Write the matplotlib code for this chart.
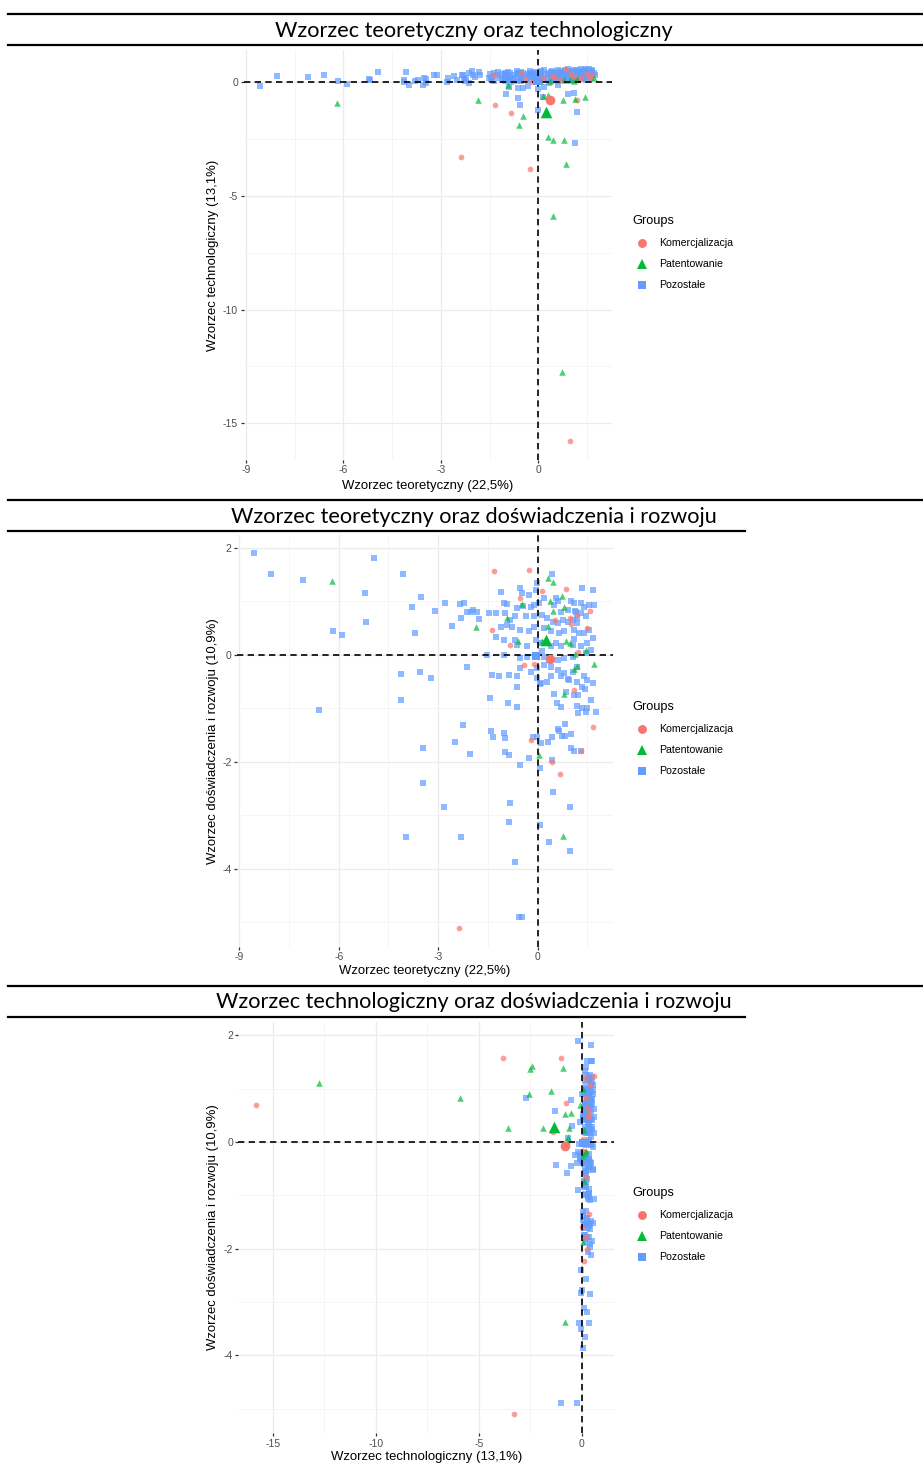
import matplotlib
matplotlib.use("Agg")
import matplotlib.pyplot as plt
from matplotlib.lines import Line2D
from matplotlib.ticker import FixedLocator

# ---------------- data ----------------
groups = ["Komercjalizacja", "Patentowanie", "Pozostałe"]
group_colors = ["#F8766D", "#00BA38", "#619CFF"]
group_markers = ["o", "^", "s"]

kom_teor = [-2.37, 0.97, -0.27, -1.33, -0.83, 1.20, 0.14, -0.53, 0.85, 0.52, 1.00, -1.37,
            1.58, 1.50, 1.23, -0.41, -0.11, 1.10, 1.66, -0.19, 1.32, 0.42, 0.66]
kom_tech = [-3.28, -15.80, -3.83, -1.00, -1.37, -0.76, 0.20, 0.40, 0.60, 0.25, 0.35, 0.30,
            0.20, 0.35, 0.10, 0.15, 0.05, 0.23, 0.34, 0.00, 0.20, 0.26, 0.10]
kom_rozw = [-5.10, 0.70, 1.58, 1.57, 0.19, 0.74, 1.20, 1.07, 1.23, 0.65, 0.58, 0.47,
            0.82, 0.50, 0.06, -0.19, -0.17, -0.65, -1.35, -1.59, -1.79, -2.00, -2.23]

pat_teor = [0.72, -6.20, 0.46, 0.85, 0.31, 0.46, 0.80, -0.60, -0.46, -1.87, 0.76, 1.12,
            1.45, 0.13, 0.30, 0.36, -0.94, 0.98, 1.20, 1.10, 1.71, 0.78, 0.04]
pat_tech = [-12.75, -0.93, -5.90, -3.60, -2.41, -2.53, -2.56, -1.87, -1.50, -0.79, -0.80, -0.72,
            -0.67, -0.60, -0.54, 0.05, -0.10, 0.10, 0.15, 0.05, 0.20, 0.10, 0.06]
pat_rozw = [1.10, 1.39, 0.82, 0.26, 1.43, 1.37, 0.90, 0.26, 0.95, 0.52, -3.38, 0.02,
            0.10, 0.27, 0.55, 1.00, 0.70, 0.22, -0.20, -0.27, -0.17, -0.73, -1.87]

poz_teor = [-8.55, -8.04, -7.08, -6.58, -6.17, -5.90, -5.21, -5.18, -4.94, -4.13, -4.12, -4.07,
            -3.97, -3.78, -3.71, -3.55, -3.52, -3.46, -3.45, -3.21, -3.11, -2.82, -2.79, -2.58,
            -2.50, -2.35, -2.31, -2.30, -2.26, -2.23, -2.13, -2.13, -2.05, -2.00, -1.96, -1.83,
            -1.78, -1.52, -1.48, -1.45, -1.42, -1.37, -1.35, -1.27, -1.25, -1.17, -1.12, -1.12,
            -1.02, -1.02, -1.02, -1.02, -1.00, -0.99, -0.92, -0.92, -0.89, -0.87, -0.85, -0.85,
            -0.83, -0.82, -0.77, -0.67, -0.67, -0.67, -0.62, -0.62, -0.62, -0.62, -0.57, -0.46,
            -0.54, -0.52, -0.52, -0.52, -0.52, -0.46, -0.43, -0.36, -0.31, -0.31, -0.26, -0.26,
            -0.26, -0.21, -0.21, -0.13, -0.11, -0.11, -0.11, -0.06, -0.06, -0.01, -0.01, -0.01,
            0.04, 0.06, 0.06, 0.06, 0.09, 0.09, 0.09, 0.14, 0.19, 0.19, 0.19, 0.19,
            0.29, 0.29, 0.32, 0.34, 0.39, 0.39, 0.39, 0.39, 0.42, 0.42, 0.42, 0.45,
            0.45, 0.48, 0.49, 0.55, 0.55, 0.57, 0.60, 0.60, 0.60, 0.60, 0.60, 0.65,
            0.65, 0.70, 0.70, 0.70, 0.70, 0.72, 0.75, 0.80, 0.80, 0.80, 0.82, 0.83,
            0.85, 0.90, 0.90, 0.91, 0.95, 0.97, 0.97, 1.00, 1.00, 1.00, 1.05, 1.05,
            1.05, 1.05, 1.08, 1.10, 1.10, 1.10, 1.10, 1.12, 1.15, 1.18, 1.20, 1.20,
            1.20, 1.20, 1.22, 1.23, 1.25, 1.30, 1.30, 1.30, 1.32, 1.35, 1.35, 1.35,
            1.40, 1.40, 1.40, 1.42, 1.45, 1.45, 1.47, 1.48, 1.50, 1.50, 1.55, 1.55,
            1.61, 1.61, 1.66, 1.66, 1.66, 1.71, 1.76, -1.00, -0.63, -0.02, 0.13]
poz_rozw = [1.90, 1.51, 1.40, -1.03, 0.44, 0.37, 1.16, 0.61, 1.82, -0.84, -0.36, 1.51,
            -3.40, 0.90, 0.41, -0.31, 1.09, -2.40, -1.74, -0.44, 0.83, -2.84, 0.98, 0.55,
            -1.62, 0.95, -3.40, 0.69, -1.31, 0.98, 0.81, -0.23, -1.85, 0.81, 0.84, 0.81,
            0.68, 0.00, 0.78, -0.81, -1.43, -0.37, -1.54, 0.34, 0.78, -0.40, 1.18, 0.53,
            0.98, 0.28, 0.00, -1.46, -1.55, -1.81, 0.95, 0.56, -0.90, -0.37, -1.87, -3.12,
            -2.77, 0.65, 0.53, 0.72, 0.28, -3.87, 0.88, 0.19, -0.40, -0.98, -4.90, -4.90,
            -2.06, 1.26, 0.47, -0.06, -0.25, 1.16, 0.92, 0.72, 0.16, -0.03, 1.12, 0.44,
            -1.92, 0.90, -0.31, -1.53, 0.93, 0.73, 0.53, 1.21, 0.28, 1.34, -0.25, -1.53,
            0.97, -0.54, -2.12, -3.18, 0.22, -0.53, -1.64, 0.75, 1.06, 0.50, -0.03, -0.19,
            0.69, -0.50, -1.62, -3.50, 0.44, 0.16, -0.22, -0.40, 1.51, -1.53, -1.96, 0.62,
            -2.57, -0.73, 0.93, 1.07, 0.22, -0.89, 1.00, 0.59, -0.09, -0.28, -1.39, 0.41,
            -1.42, 0.81, 0.16, -0.40, -0.97, -1.51, 0.65, 0.44, -0.06, -0.34, -1.30, -1.51,
            -0.69, 0.84, 0.62, -0.45, -0.47, -2.85, -3.66, 1.00, -1.48, -1.74, 0.65, 0.19,
            -0.03, -0.31, -0.75, 0.97, 0.47, -1.79, 0.30, 0.82, 0.81, 0.59, 0.69, -0.22,
            -0.50, -0.95, -0.75, -1.09, 0.41, 0.97, 0.78, 0.16, -1.79, 1.25, -0.59, -1.00,
            0.90, 0.41, -0.40, -0.64, 0.72, 0.03, -1.07, -1.00, 0.22, -0.47, 0.93, 0.47,
            0.09, -0.84, 1.21, 0.31, -0.52, 0.93, -1.07, 0.79, -0.59, -0.43, 0.07]
poz_tech = [-0.18, 0.26, 0.23, 0.32, 0.06, -0.09, 0.16, 0.12, 0.44, 0.09, 0.00, 0.45,
            -0.13, 0.04, 0.10, -0.10, 0.20, -0.05, 0.15, 0.34, 0.34, -0.01, 0.20, 0.26,
            0.10, 0.30, 0.34, 0.15, 0.05, 0.20, 0.40, -0.05, 0.48, 0.30, 0.25, 0.45,
            0.30, 0.20, 0.35, 0.15, 0.25, 0.05, 0.40, 0.30, 0.45, 0.20, 0.35, 0.10,
            0.40, 0.15, 0.30, 0.05, 0.35, 0.20, 0.25, 0.45, -0.20, 0.40, 0.15, 0.10,
            0.00, 0.30, 0.20, 0.35, 0.50, 0.05, 0.15, 0.40, -0.25, 0.35, -1.00, -0.25,
            0.30, 0.20, 0.05, 0.45, 0.10, 0.40, 0.30, 0.15, 0.35, -0.15, 0.50, 0.25,
            0.40, 0.10, 0.35, 0.20, 0.45, 0.25, 0.05, 0.30, 0.40, 0.15, -0.30, 0.10,
            0.35, 0.20, 0.45, 0.25, 0.50, 0.30, 0.40, 0.20, 0.55, 0.10, 0.35, -0.20,
            0.40, 0.15, 0.30, -0.05, 0.45, 0.20, 0.35, 0.05, 0.50, 0.15, 0.40, 0.30,
            0.20, 0.10, 0.25, 0.45, 0.15, 0.35, 0.40, 0.20, 0.55, -0.10, 0.05, 0.35,
            0.25, 0.50, 0.25, 0.40, 0.15, 0.30, 0.10, 0.45, 0.20, 0.35, 0.20, 0.55,
            0.25, 0.35, 0.60, -0.53, 0.30, 0.40, 0.15, 0.25, 0.45, 0.10, 0.40, 0.15,
            0.50, 0.30, 0.20, 0.55, 0.25, 0.35, -0.46, -2.69, 0.30, -1.30, 0.45, 0.20,
            0.55, 0.35, 0.10, 0.40, 0.50, 0.20, 0.35, 0.60, 0.25, 0.40, 0.15, 0.30,
            0.55, 0.25, 0.45, 0.20, 0.50, 0.35, 0.60, 0.10, 0.30, 0.40, 0.25, 0.60,
            0.45, 0.20, 0.50, 0.35, 0.55, 0.40, 0.30, -0.50, -0.70, -1.23, -0.64]

# group centroids (large markers)
cen_teor = [0.37, 0.24, -0.05]
cen_tech = [-0.79, -1.32, 0.05]
cen_rozw = [-0.07, 0.28, -0.02]

lab_teor = "Wzorzec teoretyczny (22,5%)"
lab_tech = "Wzorzec technologiczny (13,1%)"
lab_rozw = "Wzorzec doświadczenia i rozwoju (10,9%)"

titles = ["Wzorzec teoretyczny oraz technologiczny",
          "Wzorzec teoretyczny oraz doświadczenia i rozwoju",
          "Wzorzec technologiczny oraz doświadczenia i rozwoju"]

data = {
    "teor": [kom_teor, pat_teor, poz_teor, cen_teor],
    "tech": [kom_tech, pat_tech, poz_tech, cen_tech],
    "rozw": [kom_rozw, pat_rozw, poz_rozw, cen_rozw],
}
labels = {"teor": lab_teor, "tech": lab_tech, "rozw": lab_rozw}

# ---------------- layout ----------------
W, H = 923, 1463
fig = plt.figure(figsize=(W / 100, H / 100), dpi=100)
fig.patch.set_facecolor("white")

def fx(x):
    return x / W

def fy(y):
    return 1 - y / H

panels = [
    dict(x="teor", y="tech", box=(243.5, 50, 612.4, 460), xlim=(-9.07, 2.28), ylim=(-16.62, 1.42),
         xmaj=[-9, -6, -3, 0], xmin=[-7.5, -4.5, -1.5, 1.5], ymaj=[-15, -10, -5, 0], ymin=[-12.5, -7.5, -2.5],
         bars=(14, 45), bar2_end=923, title_y=30, xlab_y=486, leg_y=253.5),
    dict(x="teor", y="rozw", box=(236.9, 534.6, 613.3, 947), xlim=(-9.07, 2.28), ylim=(-5.46, 2.25),
         xmaj=[-9, -6, -3, 0], xmin=[-7.5, -4.5, -1.5, 1.5], ymaj=[-4, -2, 0, 2], ymin=[-5, -3, -1, 1],
         bars=(500, 531), bar2_end=745, title_y=516, xlab_y=971, leg_y=739.5),
    dict(x="tech", y="rozw", box=(238.3, 1022, 614, 1433.2), xlim=(-16.67, 1.57), ylim=(-5.46, 2.25),
         xmaj=[-15, -10, -5, 0], xmin=[-12.5, -7.5, -2.5], ymaj=[-4, -2, 0, 2], ymin=[-5, -3, -1, 1],
         bars=(986, 1017), bar2_end=745, title_y=1001, xlab_y=1457, leg_y=1225.5),
]

axis_font = "Liberation Sans"
fig.canvas.draw()
renderer = fig.canvas.get_renderer()

def fit_size(text, family, target_w, base=10):
    t = fig.text(0, 0, text, fontsize=base, family=family)
    w = t.get_window_extent(renderer).width
    t.remove()
    return base * target_w / w

title_fs = fit_size(titles[0], "Lato", 398)
axlab_fs = fit_size(lab_teor, axis_font, 173)
leg_fs = fit_size("Komercjalizacja", axis_font, 74)
legt_fs = fit_size("Groups", axis_font, 42)

for i, p in enumerate(panels):
    l, t, r, b = p["box"]
    ax = fig.add_axes([fx(l), fy(b), (r - l) / W, (b - t) / H])
    ax.set_facecolor("white")
    for s in ax.spines.values():
        s.set_visible(False)
    ax.set_xlim(*p["xlim"])
    ax.set_ylim(*p["ylim"])
    ax.xaxis.set_major_locator(FixedLocator(p["xmaj"]))
    ax.yaxis.set_major_locator(FixedLocator(p["ymaj"]))
    ax.xaxis.set_minor_locator(FixedLocator(p["xmin"]))
    ax.yaxis.set_minor_locator(FixedLocator(p["ymin"]))
    ax.set_xticklabels([str(v) for v in p["xmaj"]], family=axis_font)
    ax.set_yticklabels([str(v) for v in p["ymaj"]], family=axis_font)
    ax.tick_params(which="major", length=2.4, width=0.9, color="#333333",
                   labelcolor="#4D4D4D", labelsize=7.5, pad=1.5)
    ax.tick_params(which="minor", length=0)
    ax.set_axisbelow(True)
    ax.grid(which="major", color="#EBEBEB", lw=0.9)
    ax.grid(which="minor", color="#F2F2F2", lw=0.5)

    xs, ys = data[p["x"]], data[p["y"]]
    order = [2, 0, 1]
    for g in order:
        ax.scatter(xs[g], ys[g], s=[17, 22, 16][g], marker=group_markers[g],
                   color=group_colors[g], alpha=0.7, linewidths=0, zorder=2)
    ax.axhline(0, color="black", lw=1.2, ls=(0, (3.8, 2.6)), zorder=3)
    ax.axvline(0, color="black", lw=1.2, ls=(0, (3.8, 2.6)), zorder=3)
    for g in range(3):
        ax.scatter([xs[3][g]], [ys[3][g]], s=[48, 70, 36][g], marker=group_markers[g],
                   color=group_colors[g], alpha=1.0, linewidths=0, zorder=4)

    # axis titles
    fig.text(fx((l + r) / 2), fy(p["xlab_y"]), labels[p["x"]], ha="center", va="center",
             fontsize=axlab_fs, family=axis_font, color="black")
    fig.text(fx(213), fy((t + b) / 2), labels[p["y"]], ha="center", va="center",
             rotation=90, fontsize=axlab_fs, family=axis_font, color="black")

    # title bar
    y1, y2 = p["bars"]
    fig.add_artist(Line2D([fx(8), fx(923)], [fy(y1), fy(y1)], color="black", lw=1.6))
    fig.add_artist(Line2D([fx(8), fx(p["bar2_end"])], [fy(y2), fy(y2)], color="black", lw=1.6))
    fig.text(fx(474), fy(p["title_y"] + 1), titles[i], ha="center", va="center",
             fontsize=title_fs, family="Lato", color="black")

    # legend
    ly = p["leg_y"]
    fig.text(fx(632.7), fy(ly - 32.5), "Groups", ha="left", va="center",
             fontsize=legt_fs, family=axis_font, color="black")
    for g in range(3):
        yy = ly - 10.5 + 21 * g
        fig.add_artist(Line2D([fx(641.7)], [fy(yy)], marker=group_markers[g], ls="none",
                              markersize=[6.4, 7.0, 5.6][g], color=group_colors[g],
                              markeredgewidth=0))
        fig.text(fx(659.3), fy(yy), groups[g], ha="left", va="center",
                 fontsize=leg_fs, family=axis_font, color="black")

fig.savefig("out.png", dpi=100, facecolor="white")
